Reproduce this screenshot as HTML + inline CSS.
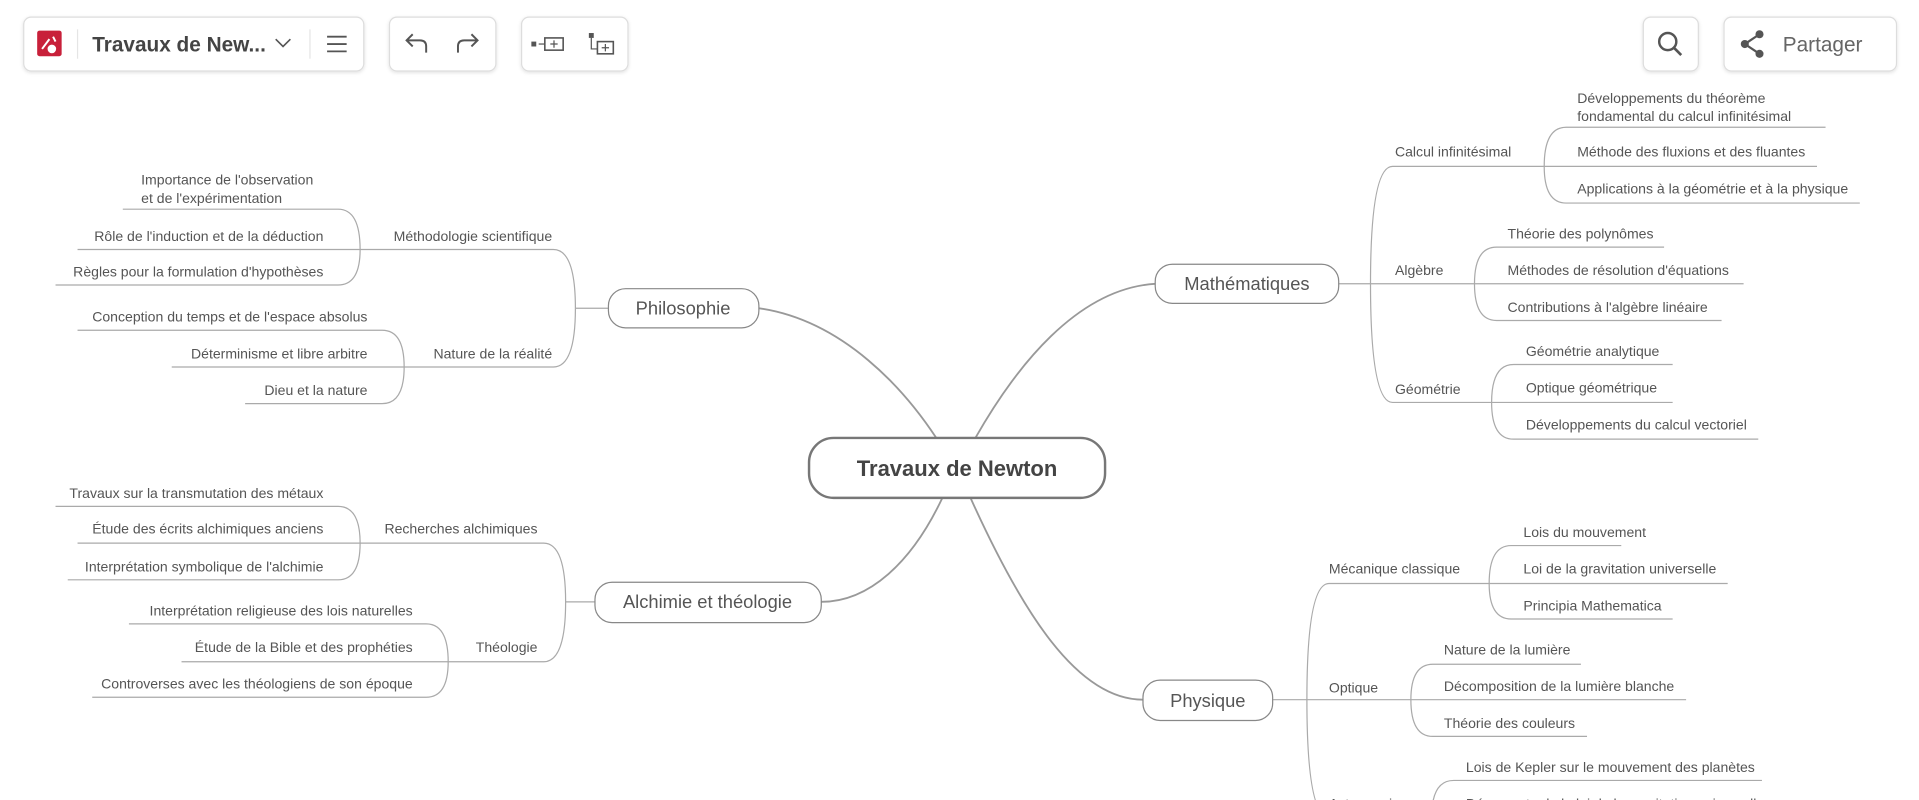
<!DOCTYPE html>
<html><head><meta charset="utf-8"><style>
html,body{margin:0;padding:0;background:#fff;width:1919px;height:800px;overflow:hidden}
svg{display:block}
text{font-family:"Liberation Sans",sans-serif;fill:#555}
.l{font-size:11.5px}
.c{stroke:#aaa;stroke-width:1;fill:none}
.m{stroke:#999;stroke-width:1.5;fill:none}
.n{fill:#fff;stroke:#888;stroke-width:1}
.b{fill:#fff;stroke:#ddd;stroke-width:1}
</style></head><body>
<svg width="1919" height="800" viewBox="0 0 1568 654" xmlns="http://www.w3.org/2000/svg">
<defs><filter id="sh" x="-10%" y="-10%" width="120%" height="140%"><feDropShadow dx="0" dy="1" stdDeviation="1.5" flood-color="#000" flood-opacity="0.12"/></filter></defs>
<!-- toolbar -->
<g filter="url(#sh)">
<rect class="b" x="19" y="14" width="278" height="44" rx="6"/>
<rect class="b" x="318" y="14" width="87" height="44" rx="6"/>
<rect class="b" x="426" y="14" width="87" height="44" rx="6"/>
<rect class="b" x="1343" y="14" width="45" height="44" rx="6"/>
<rect class="b" x="1409" y="14" width="141" height="44" rx="6"/>
</g>
<rect x="30" y="25" width="20" height="21" rx="2" fill="#c8203a"/>
<circle cx="42" cy="40" r="3.5" fill="#fff"/><path d="M34 40 L40 32 M43 30 L45 34" stroke="#fff" stroke-width="1.6"/>
<line x1="63" y1="24" x2="63" y2="48" stroke="#e5e5e5"/>
<text x="75" y="42" style="font-size:17px;font-weight:bold;fill:#444">Travaux de New...</text>
<path d="M225 32 L231 38 L237 32" stroke="#555" stroke-width="1.3" fill="none"/>
<line x1="253" y1="24" x2="253" y2="48" stroke="#e5e5e5"/>
<path d="M267 30 H283 M267 36 H283 M267 42 H283" stroke="#555" stroke-width="1.5"/>
<path d="M348 43 V38 Q348 33 343 33 H332 M337 28 L332 33 L337 38" stroke="#555" stroke-width="1.6" fill="none"/>
<path d="M374 43 V38 Q374 33 379 33 H390 M385 28 L390 33 L385 38" stroke="#555" stroke-width="1.6" fill="none"/>
<rect x="434" y="34" width="4" height="4" fill="#555"/><path d="M440 36 H445" stroke="#555"/><rect x="445" y="31" width="15" height="10" fill="none" stroke="#555" stroke-width="1.3"/><path d="M452.5 33 V39 M449.5 36 H455.5" stroke="#555"/>
<rect x="481" y="27" width="4" height="4" fill="#555"/><path d="M483 31 V40 H488" stroke="#555" fill="none"/><rect x="488" y="34" width="13" height="10" fill="none" stroke="#555" stroke-width="1.3"/><path d="M494.5 36 V42 M491.5 39 H497.5" stroke="#555"/>
<circle cx="1363" cy="34" r="7" fill="none" stroke="#555" stroke-width="2"/><path d="M1368 39 L1374 45" stroke="#555" stroke-width="2.2"/>
<circle cx="1438" cy="28" r="3.3" fill="#555"/><circle cx="1426" cy="36" r="3.3" fill="#555"/><circle cx="1438" cy="44" r="3.3" fill="#555"/><path d="M1438 28 L1426 36 L1438 44" stroke="#555" stroke-width="1.8" fill="none"/>
<text x="1457" y="42" style="font-size:17px;fill:#666">Partager</text>

<!-- main connectors -->
<path class="m" d="M620 252 C690 262 740 320 765 358"/>
<path class="m" d="M797 358 C830 300 880 236 944 232"/>
<path class="m" d="M770 407 C745 460 710 492 671 492"/>
<path class="m" d="M793 407 C835 500 880 572 934 572"/>

<!-- Philosophie -->
<path class="c" d="M497 252 H470 M470 252 Q470 204 452 204 H294 M470 252 Q470 300 452 300 H330"/>
<path class="c" d="M294 204 Q294 171 276 171 H100 M294 204 H63 M294 204 Q294 233 276 233 H45"/>
<path class="c" d="M330 300 Q330 270 312 270 H63 M330 300 H140 M330 300 Q330 330 312 330 H200"/>
<rect class="n" x="497" y="236" width="123" height="32" rx="14"/>
<text x="558" y="257" text-anchor="middle" style="font-size:15px">Philosophie</text>
<text class="l" x="451" y="197" text-anchor="end">Méthodologie scientifique</text>
<text class="l" x="451" y="293" text-anchor="end">Nature de la réalité</text>
<text class="l" x="115" y="151">Importance de l'observation</text>
<text class="l" x="115" y="166">et de l'expérimentation</text>
<text class="l" x="264" y="197" text-anchor="end">Rôle de l'induction et de la déduction</text>
<text class="l" x="264" y="226" text-anchor="end">Règles pour la formulation d'hypothèses</text>
<text class="l" x="300" y="263" text-anchor="end">Conception du temps et de l'espace absolus</text>
<text class="l" x="300" y="293" text-anchor="end">Déterminisme et libre arbitre</text>
<text class="l" x="300" y="323" text-anchor="end">Dieu et la nature</text>

<!-- Mathématiques -->
<path class="c" d="M1094 232 H1120 M1120 232 Q1120 136 1138 136 H1262 M1120 232 H1205 M1120 232 Q1120 329 1138 329 H1219"/>
<path class="c" d="M1262 136 Q1262 104 1280 104 H1492 M1262 136 H1485 M1262 136 Q1262 166 1280 166 H1520"/>
<path class="c" d="M1205 232 Q1205 202 1223 202 H1360 M1205 232 H1425 M1205 232 Q1205 262 1223 262 H1407"/>
<path class="c" d="M1219 329 Q1219 298 1237 298 H1367 M1219 329 H1367 M1219 329 Q1219 359 1237 359 H1437"/>
<rect class="n" x="944" y="216" width="150" height="32" rx="14"/>
<text x="1019" y="237" text-anchor="middle" style="font-size:15px">Mathématiques</text>
<text class="l" x="1140" y="128">Calcul infinitésimal</text>
<text class="l" x="1140" y="225">Algèbre</text>
<text class="l" x="1140" y="322">Géométrie</text>
<text class="l" x="1289" y="84">Développements du théorème</text>
<text class="l" x="1289" y="99">fondamental du calcul infinitésimal</text>
<text class="l" x="1289" y="128">Méthode des fluxions et des fluantes</text>
<text class="l" x="1289" y="158">Applications à la géométrie et à la physique</text>
<text class="l" x="1232" y="195">Théorie des polynômes</text>
<text class="l" x="1232" y="225">Méthodes de résolution d'équations</text>
<text class="l" x="1232" y="255">Contributions à l'algèbre linéaire</text>
<text class="l" x="1247" y="291">Géométrie analytique</text>
<text class="l" x="1247" y="321">Optique géométrique</text>
<text class="l" x="1247" y="351">Développements du calcul vectoriel</text>

<!-- Alchimie -->
<path class="c" d="M486 492 H462 M462 492 Q462 444 444 444 H294 M462 492 Q462 541 444 541 H366"/>
<path class="c" d="M294 444 Q294 414 276 414 H45 M294 444 H63 M294 444 Q294 474 276 474 H55"/>
<path class="c" d="M366 541 Q366 510 348 510 H105 M366 541 H148 M366 541 Q366 570 348 570 H75"/>
<rect class="n" x="486" y="476" width="185" height="33" rx="14"/>
<text x="578" y="497" text-anchor="middle" style="font-size:15px">Alchimie et théologie</text>
<text class="l" x="439" y="436" text-anchor="end">Recherches alchimiques</text>
<text class="l" x="439" y="533" text-anchor="end">Théologie</text>
<text class="l" x="264" y="407" text-anchor="end">Travaux sur la transmutation des métaux</text>
<text class="l" x="264" y="436" text-anchor="end">Étude des écrits alchimiques anciens</text>
<text class="l" x="264" y="467" text-anchor="end">Interprétation symbolique de l'alchimie</text>
<text class="l" x="337" y="503" text-anchor="end">Interprétation religieuse des lois naturelles</text>
<text class="l" x="337" y="533" text-anchor="end">Étude de la Bible et des prophéties</text>
<text class="l" x="337" y="563" text-anchor="end">Controverses avec les théologiens de son époque</text>

<!-- Physique -->
<path class="c" d="M1040 572 H1068 M1068 572 Q1068 477 1086 477 H1217 M1068 572 H1153 M1068 572 Q1068 668 1086 668 H1170"/>
<path class="c" d="M1217 477 Q1217 446 1235 446 H1325 M1217 477 H1412 M1217 477 Q1217 506 1235 506 H1367"/>
<path class="c" d="M1153 572 Q1153 543 1171 543 H1292 M1153 572 H1378 M1153 572 Q1153 602 1171 602 H1297"/>
<path class="c" d="M1170 668 Q1170 638 1188 638 H1440"/>
<rect class="n" x="934" y="556" width="106" height="33" rx="14"/>
<text x="987" y="578" text-anchor="middle" style="font-size:15px">Physique</text>
<text class="l" x="1086" y="469">Mécanique classique</text>
<text class="l" x="1086" y="566">Optique</text>
<text class="l" x="1086" y="661">Astronomie</text>
<text class="l" x="1245" y="439">Lois du mouvement</text>
<text class="l" x="1245" y="469">Loi de la gravitation universelle</text>
<text class="l" x="1245" y="499">Principia Mathematica</text>
<text class="l" x="1180" y="535">Nature de la lumière</text>
<text class="l" x="1180" y="565">Décomposition de la lumière blanche</text>
<text class="l" x="1180" y="595">Théorie des couleurs</text>
<text class="l" x="1198" y="631">Lois de Kepler sur le mouvement des planètes</text>
<text class="l" x="1198" y="661">Découverte de la loi de la gravitation universelle</text>

<!-- center -->
<rect x="661" y="358" width="242" height="49" rx="20" fill="#fff" stroke="#777" stroke-width="2"/>
<text x="782" y="389" text-anchor="middle" style="font-size:18px;font-weight:bold;fill:#444">Travaux de Newton</text>
</svg>
</body></html>
